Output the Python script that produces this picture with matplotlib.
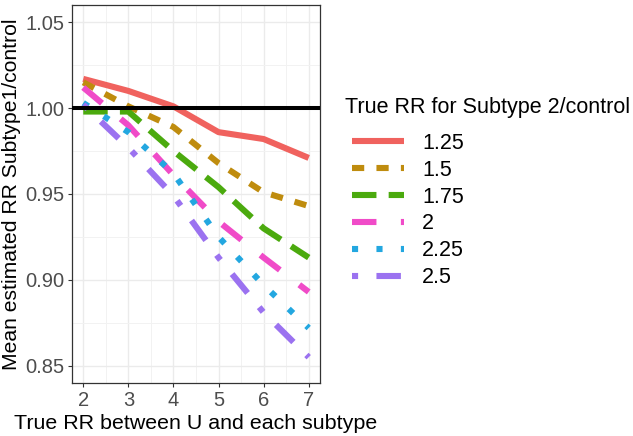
import numpy as np
import matplotlib.pyplot as plt

plt.rcParams['font.family'] = ['Liberation Sans', 'DejaVu Sans']

# data
rr_u = [2, 3, 4, 5, 6, 7]
subtype2_rr = ['1.25', '1.5', '1.75', '2', '2.25', '2.5']
mean_rr = {
    '1.25': [1.017, 1.010, 1.001, 0.986, 0.982, 0.971],
    '1.5':  [1.015, 1.001, 0.989, 0.968, 0.951, 0.943],
    '1.75': [0.998, 0.998, 0.975, 0.954, 0.930, 0.913],
    '2':    [1.012, 0.990, 0.961, 0.934, 0.913, 0.893],
    '2.25': [1.003, 0.986, 0.962, 0.925, 0.897, 0.872],
    '2.5':  [1.002, 0.977, 0.949, 0.913, 0.881, 0.855],
}
colors = ['#F0625E', '#BF8C0E', '#4BAA0E', '#F04BC8', '#23A7E0', '#9B72F0']
dashes = [None, (2, 2), (4, 2), (4, 4), (1, 3), (1, 3, 4, 3)]

fig = plt.figure(figsize=(6.33, 4.36), dpi=100)
ax = fig.add_axes([0.1137, 0.1216, 0.5055 - 0.1137, 0.9885 - 0.1216])

for lab, col, d in zip(subtype2_rr, colors, dashes):
    line, = ax.plot(rr_u, mean_rr[lab], color=col, lw=4.4, label=lab,
                    solid_capstyle='butt', dash_capstyle='butt')
    if d is not None:
        line.set_dashes(d)

ax.axhline(1.0, color='black', lw=2.9, zorder=5)

ax.set_xlim(1.75, 7.25)
ax.set_ylim(0.84, 1.06)
ax.set_xticks(rr_u)
ax.set_yticks([0.85, 0.90, 0.95, 1.00, 1.05])
ax.set_yticklabels(['0.85', '0.90', '0.95', '1.00', '1.05'])
ax.set_xticks(np.arange(2.5, 7, 1), minor=True)
ax.set_yticks([0.875, 0.925, 0.975, 1.025], minor=True)
ax.grid(True, which='major', color='#EBEBEB', lw=1.0)
ax.grid(True, which='minor', color='#F2F2F2', lw=0.7)
ax.set_axisbelow(True)
for s in ax.spines.values():
    s.set_color('#333333')
    s.set_linewidth(0.9)
ax.tick_params(which='major', length=3, width=0.8, color='#333333',
               labelsize=14.5, labelcolor='#4D4D4D', pad=2.5)
ax.tick_params(which='minor', length=0)

ax.set_xlabel('True RR between U and each subtype', fontsize=15.4, labelpad=3)
ax.set_ylabel('Mean estimated RR Subtype1/control', fontsize=15.2, labelpad=3)

fig.text(345 / 633, 1 - 107 / 436, 'True RR for Subtype 2/control',
         fontsize=15.5, ha='left', va='center')
leg = ax.legend(loc='upper left',
                bbox_to_anchor=(352 / 633, 1 - 133 / 436), bbox_transform=fig.transFigure,
                frameon=False, fontsize=15.5,
                handlelength=2.42, handletextpad=0.84, labelspacing=0.27,
                borderaxespad=0, borderpad=0)

fig.savefig('out.png', dpi=100)
